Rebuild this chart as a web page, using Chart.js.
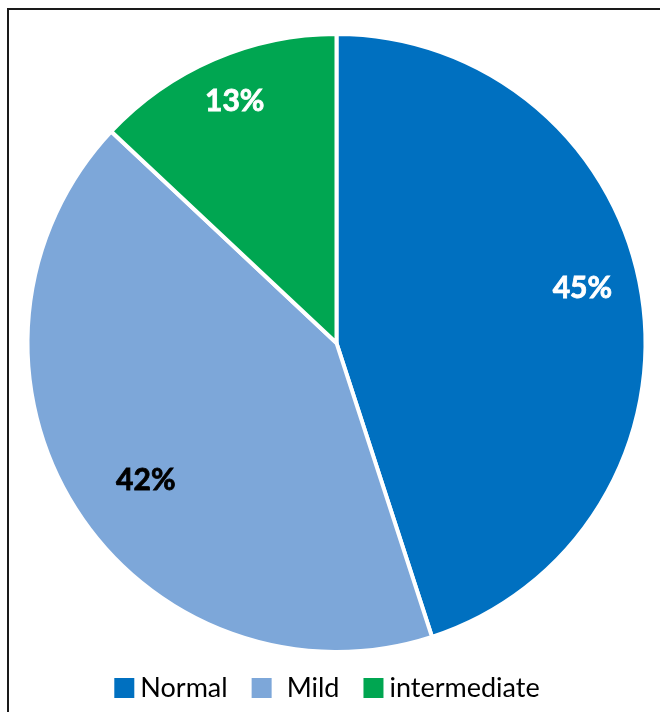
<!DOCTYPE html>
<html>
<head>
<meta charset="utf-8">
<script src="https://cdn.jsdelivr.net/npm/chart.js@4.4.0/dist/chart.umd.min.js"></script>
<style>
    html, body { margin: 0; padding: 0; background: #fff; }
    #wrap { position: relative; width: 660px; height: 712px; overflow: hidden; }
    #frame {
        position: absolute; left: 7px; top: 8px; right: -10px; bottom: -10px;
        border-left: 2px solid #1a1a1a; border-top: 2px solid #1a1a1a;
        pointer-events: none;
    }
    canvas { position: absolute; left: 0; top: 0; }
</style>
</head>
<body>
<div id="wrap">
    <canvas id="chart-severity" width="660" height="712"></canvas>
    <div id="frame"></div>
</div>
<script>
// Données du graphique
const categories = ['Normal', 'Mild', 'intermediate'];
const shares = [45, 42, 13];
const sliceColors = ['#0070C0', '#7DA7D9', '#00A651'];
const labelColors = ['#ffffff', '#000000', '#ffffff'];

// Étiquettes de pourcentage sur les parts
const pctLabels = {
    id: 'pctLabels',
    afterDatasetsDraw(chart, args, opts) {
        const ctx = chart.ctx;
        const meta = chart.getDatasetMeta(0);
        ctx.save();
        ctx.font = 'bold 30px Lato';
        ctx.textAlign = 'center';
        ctx.textBaseline = 'middle';
        meta.data.forEach((arc, i) => {
            const mid = (arc.startAngle + arc.endAngle) / 2 + (opts.nudge[i] || 0) * Math.PI / 180;
            const r = arc.outerRadius * opts.radius[i];
            ctx.fillStyle = labelColors[i];
            // léger trait pour épaissir le gras
            ctx.strokeStyle = labelColors[i];
            ctx.lineWidth = 0.8;
            const px = arc.x + Math.cos(mid) * r, py = arc.y + Math.sin(mid) * r;
            ctx.fillText(shares[i] + '%', px, py);
            ctx.strokeText(shares[i] + '%', px, py);
        });
        ctx.restore();
    }
};

// Légende dessinée à la main (carrés + texte)
const boxLegend = {
    id: 'boxLegend',
    afterDraw(chart, args, opts) {
        const ctx = chart.ctx;
        ctx.save();
        ctx.font = '27px Lato';
        ctx.textBaseline = 'alphabetic';
        const box = 20;
        const widths = categories.map((c, i) => box + opts.textGap[i] + ctx.measureText(c).width);
        const total = widths.reduce((a, b) => a + b, 0) + opts.itemGap * (categories.length - 1);
        let x = (chart.width - total) / 2 - 3;
        categories.forEach((c, i) => {
            ctx.fillStyle = sliceColors[i];
            ctx.fillRect(x, opts.y - box / 2, box, box);
            ctx.fillStyle = '#000';
            ctx.fillText(c, x + box + opts.textGap[i], opts.y + 9);
            x += widths[i] + opts.itemGap;
        });
        ctx.restore();
    }
};

new Chart(document.getElementById('chart-severity'), {
    type: 'pie',
    data: {
        labels: categories,
        datasets: [{
            data: shares,
            backgroundColor: sliceColors,
            borderColor: '#ffffff',
            borderWidth: 4,
            hoverOffset: 0
        }]
    },
    options: {
        responsive: false,
        animation: false,
        layout: {
            padding: { left: 25.5, right: 12.5, top: 32, bottom: 58 }
        },
        plugins: {
            legend: { display: false },
            tooltip: { enabled: false },
            pctLabels: { radius: [0.815, 0.76, 0.85], nudge: [-3.5, -3.3, 0.6] },
            boxLegend: { y: 688, textGap: [6, 15, 6], itemGap: 24 }
        }
    },
    plugins: [pctLabels, boxLegend]
});
</script>
</body>
</html>
